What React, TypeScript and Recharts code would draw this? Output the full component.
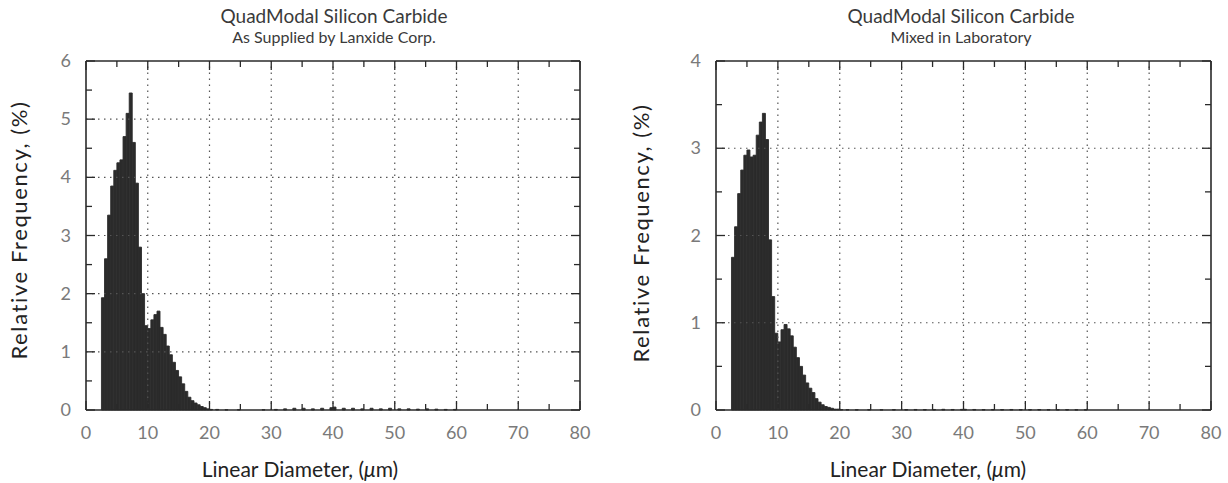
import React from 'react';
import { ComposedChart, Bar, Line, XAxis, YAxis, ReferenceLine } from 'recharts';

const FONT = 'Lato, "DejaVu Sans", sans-serif';

// Bin centres (Linear Diameter, µm)
const diameters = [
  2.75, 3.25, 3.75, 4.25, 4.75, 5.25, 5.75, 6.25, 6.75, 7.25,
  7.75, 8.25, 8.75, 9.25, 9.75, 10.25, 10.75, 11.25, 11.75, 12.25,
  12.75, 13.25, 13.75, 14.25, 14.75, 15.25, 15.75, 16.25, 16.75, 17.25,
  17.75, 18.25, 18.75, 19.25, 19.75,
  20.25, 21.25, 22.75, 24.75, 26.75, 28.75, 30.75, 32.25, 33.75, 35.25,
  36.75, 38.25, 39.75, 40.25, 41.75, 43.25, 44.75, 46.25, 47.75, 49.25,
  50.75, 52.25, 53.75, 55.25, 56.75, 58.25, 59.75,
];

// Relative frequency (%) — as supplied by Lanxide Corp.
const suppliedFreq = [
  1.93, 2.6, 3.35, 3.85, 4.12, 4.25, 4.3, 4.7, 5.1, 5.45,
  4.6, 3.9, 2.8, 2.0, 1.45, 1.4, 1.55, 1.64, 1.7, 1.42,
  1.3, 1.1, 0.95, 0.82, 0.68, 0.57, 0.45, 0.32, 0.22, 0.16,
  0.12, 0.09, 0.06, 0.04, 0.02,
  0.01, 0.01, 0.005, 0.005, 0.0, 0.005, 0.01, 0.02, 0.03, 0.03,
  0.02, 0.03, 0.04, 0.05, 0.03, 0.03, 0.02, 0.03, 0.02, 0.03,
  0.02, 0.02, 0.015, 0.02, 0.015, 0.01, 0.01,
];

// Relative frequency (%) — mixed in laboratory
const mixedFreq = [
  1.75, 2.1, 2.48, 2.75, 2.92, 2.98, 2.9, 2.92, 3.15, 3.3,
  3.4, 3.1, 1.95, 1.3, 0.88, 0.78, 0.92, 0.98, 0.93, 0.85,
  0.72, 0.6, 0.5, 0.4, 0.31, 0.25, 0.2, 0.13, 0.09, 0.06,
  0.04, 0.03, 0.02, 0.01, 0.01,
  0.005, 0.004, 0.003, 0.003, 0.003, 0.004, 0.005, 0.006, 0.005, 0.006,
  0.008, 0.006, 0.007, 0.008, 0.006, 0.005, 0.006, 0.005, 0.006, 0.005,
  0.004, 0.005, 0.004, 0.003, 0.004, 0.003, 0.003,
];

const xTicks = [0, 5, 10, 15, 20, 25, 30, 35, 40, 45, 50, 55, 60, 65, 70, 75, 80];
const xGrid = [10, 20, 30, 40, 50, 60, 70];
const suppliedYTicks = [0, 0.5, 1, 1.5, 2, 2.5, 3, 3.5, 4, 4.5, 5, 5.5, 6];
const suppliedYGrid = [1, 2, 3, 4, 5];
const mixedYTicks = [0, 0.5, 1, 1.5, 2, 2.5, 3, 3.5, 4];
const mixedYGrid = [1, 2, 3];

const FRAME = '#2a2a2a';
const TICK_TEXT = '#7a7a7a';
const BAR = '#2b2b2b';

const isMajor = (v: number, step: number) => Math.abs(v / step - Math.round(v / step)) < 1e-6;

const BottomTick = (props: any) => {
  const { x, y, payload } = props;
  const v = payload.value;
  const major = isMajor(v, 10);
  return (
    <g>
      <line x1={x} x2={x} y1={y} y2={y - (major ? 9 : 6)} stroke={FRAME} strokeWidth={1.3} />
      {major && (
        <text x={x} y={y + 29} textAnchor="middle" fill={TICK_TEXT} fontSize={18} fontFamily={FONT}>
          {v}
        </text>
      )}
    </g>
  );
};

const TopTick = (props: any) => {
  const { x, y, payload } = props;
  const major = isMajor(payload.value, 10);
  return <line x1={x} x2={x} y1={y} y2={y + (major ? 9 : 6)} stroke={FRAME} strokeWidth={1.3} />;
};

const LeftTick = (props: any) => {
  const { x, y, payload } = props;
  const v = payload.value;
  const major = isMajor(v, 1);
  return (
    <g>
      <line x1={x} x2={x + (major ? 9 : 6)} y1={y} y2={y} stroke={FRAME} strokeWidth={1.3} />
      {major && (
        <text x={x - 15} y={y + 6} textAnchor="end" fill={TICK_TEXT} fontSize={18} fontFamily={FONT}>
          {v}
        </text>
      )}
    </g>
  );
};

const RightTick = (props: any) => {
  const { x, y, payload } = props;
  const major = isMajor(payload.value, 1);
  return <line x1={x} x2={x - (major ? 9 : 6)} y1={y} y2={y} stroke={FRAME} strokeWidth={1.3} />;
};

type PanelProps = {
  freq: number[];
  yTicks: number[];
  yGrid: number[];
  yMax: number;
  leftW: number;
  rightM: number;
};

const Panel = ({ freq, yTicks, yGrid, yMax, leftW, rightM }: PanelProps) => {
  const data = diameters.map((d, i) => ({ d, v: freq[i] }));
  return (
    <ComposedChart
      width={614}
      height={483}
      data={data}
      margin={{ top: 60, right: rightM - 1, bottom: 0, left: 0 }}
      barCategoryGap={0}
      barGap={0}
    >
      <XAxis
        dataKey="d"
        type="number"
        domain={[0, 80]}
        ticks={xTicks}
        interval={0}
        height={73}
        tickSize={0}
        tickMargin={0}
        tickLine={false}
        tick={<BottomTick />}
        axisLine={{ stroke: FRAME, strokeWidth: 1.6 }}
      />
      <XAxis
        xAxisId="top"
        orientation="top"
        dataKey="d"
        type="number"
        domain={[0, 80]}
        ticks={xTicks}
        interval={0}
        height={1}
        tickSize={0}
        tickMargin={0}
        tickLine={false}
        tick={<TopTick />}
        axisLine={{ stroke: FRAME, strokeWidth: 1.6 }}
      />
      <YAxis
        type="number"
        domain={[0, yMax]}
        ticks={yTicks}
        interval={0}
        width={leftW}
        tickSize={0}
        tickMargin={0}
        tickLine={false}
        tick={<LeftTick />}
        axisLine={{ stroke: FRAME, strokeWidth: 1.6 }}
      />
      <YAxis
        yAxisId="right"
        orientation="right"
        type="number"
        domain={[0, yMax]}
        ticks={yTicks}
        interval={0}
        width={1}
        tickSize={0}
        tickMargin={0}
        tickLine={false}
        tick={<RightTick />}
        axisLine={{ stroke: FRAME, strokeWidth: 1.6 }}
      />
      {xGrid.map((g) => (
        <ReferenceLine key={'x' + g} x={g} stroke="#555" strokeWidth={1.2} strokeDasharray="1.5 4.5" />
      ))}
      {yGrid.map((g) => (
        <ReferenceLine key={'y' + g} y={g} stroke="#555" strokeWidth={1.2} strokeDasharray="1.5 4.5" />
      ))}
      <Bar dataKey="v" fill={BAR} stroke={BAR} strokeWidth={0.9} isAnimationActive={false} />
      <Line
        xAxisId="top"
        yAxisId="right"
        dataKey="v"
        stroke="none"
        dot={false}
        activeDot={false}
        legendType="none"
        isAnimationActive={false}
      />
    </ComposedChart>
  );
};

export default function App() {
  return (
    <div style={{ position: 'absolute', left: 0, top: 0, width: 1228, height: 483, background: '#fff' }}>
      <div style={{ position: 'absolute', left: 0, top: 0 }}>
        <Panel freq={suppliedFreq} yTicks={suppliedYTicks} yGrid={suppliedYGrid} yMax={6} leftW={86} rightM={34} />
      </div>
      <div style={{ position: 'absolute', left: 614, top: 0 }}>
        <Panel freq={mixedFreq} yTicks={mixedYTicks} yGrid={mixedYGrid} yMax={4} leftW={102} rightM={17} />
      </div>
      <svg width={1228} height={483} style={{ position: 'absolute', left: 0, top: 0, pointerEvents: 'none' }}>
        <g fontFamily={FONT} fill="#3a3a3a">
          <text x={334} y={23} textAnchor="middle" fontSize={19}>QuadModal Silicon Carbide</text>
          <text x={334} y={43} textAnchor="middle" fontSize={16}>As Supplied by Lanxide Corp.</text>
          <text x={961} y={23} textAnchor="middle" fontSize={19}>QuadModal Silicon Carbide</text>
          <text x={961} y={43} textAnchor="middle" fontSize={16}>Mixed in Laboratory</text>
        </g>
        <g fontFamily={FONT} fill="#222">
          <text x={300} y={477} textAnchor="middle" fontSize={21}>
            Linear Diameter, (<tspan fontStyle="italic">μ</tspan>m)
          </text>
          <text x={928} y={477} textAnchor="middle" fontSize={21}>
            Linear Diameter, (<tspan fontStyle="italic">μ</tspan>m)
          </text>
          <text transform="translate(27,230) rotate(-90)" textAnchor="middle" fontSize={22} letterSpacing={1.6}>
            Relative Frequency, (%)
          </text>
          <text transform="translate(649,233) rotate(-90)" textAnchor="middle" fontSize={22} letterSpacing={1.6}>
            Relative Frequency, (%)
          </text>
        </g>
      </svg>
    </div>
  );
}
